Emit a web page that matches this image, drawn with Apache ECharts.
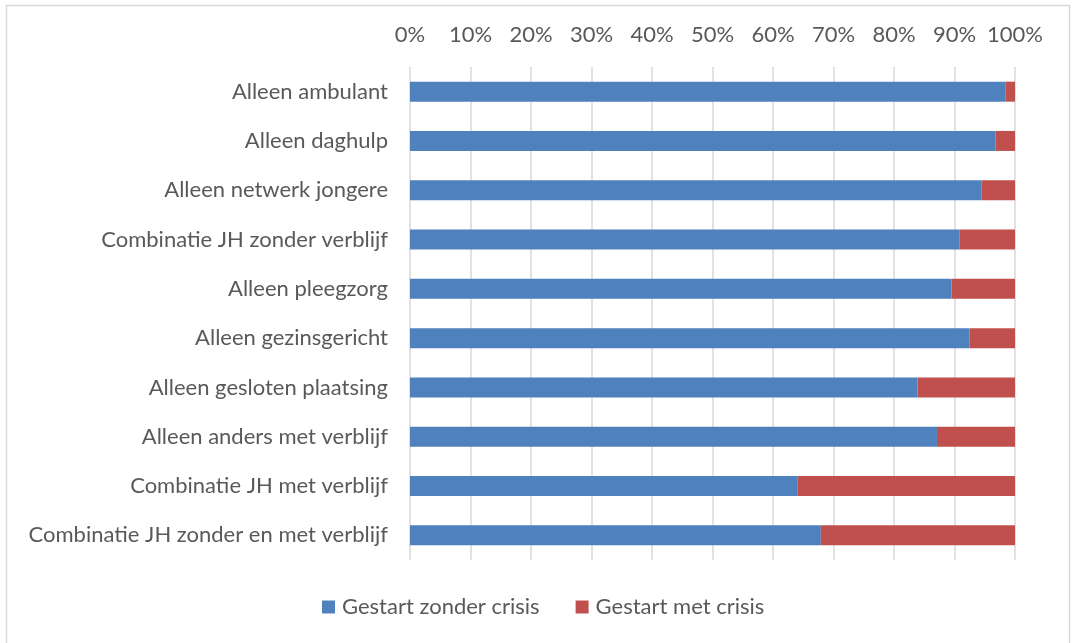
<!DOCTYPE html>
<html><head><meta charset="utf-8">
<script src="https://cdn.jsdelivr.net/npm/echarts@6/dist/echarts.min.js"></script>
<style>html,body{margin:0;padding:0;background:#fff}#c{width:1074px;height:643px}</style>
</head><body><div id="c"></div>
<script>
const categories = [
  "Alleen ambulant",
  "Alleen daghulp",
  "Alleen netwerk jongere",
  "Combinatie JH zonder verblijf",
  "Alleen pleegzorg",
  "Alleen gezinsgericht",
  "Alleen gesloten plaatsing",
  "Alleen anders met verblijf",
  "Combinatie JH met verblijf",
  "Combinatie JH zonder en met verblijf"
];
const zonderCrisis = [98.4, 96.8, 94.5, 90.8, 89.5, 92.5, 83.9, 87.1, 64.1, 67.9];
const metCrisis = [1.6, 3.2, 5.5, 9.2, 10.5, 7.5, 16.1, 12.9, 35.9, 32.1];
const seriesNames = ["Gestart zonder crisis", "Gestart met crisis"];

const FONT = "Lato";
const FS = 22;
const chart = echarts.init(document.getElementById('c'));
chart.setOption({
  animation: false,
  textStyle: { fontFamily: FONT },
  graphic: [{
    type: 'rect', shape: { x: 6.5, y: 5.5, width: 1063, height: 660 },
    style: { fill: 'none', stroke: '#d9d9d9', lineWidth: 1.5 }, silent: true
  }],
  grid: { left: 410, right: 59, top: 67, bottom: 83, containLabel: false },
  legend: {
    top: 596, left: 322, itemWidth: 13, itemHeight: 13, itemGap: 36,
    icon: 'rect', padding: 0,
    textStyle: { color: '#595959', fontSize: FS, fontFamily: FONT, padding: [0, 0, 0, 2] },
    data: seriesNames
  },
  xAxis: {
    type: 'value', position: 'top', min: 0, max: 100, interval: 10,
    axisLabel: { formatter: '{value}%', color: '#595959', fontSize: FS, margin: 21, fontFamily: FONT },
    axisLine: { show: false }, axisTick: { show: false },
    splitLine: { lineStyle: { color: '#d9d9d9', width: 1.5 } }
  },
  yAxis: {
    type: 'category', inverse: true, data: categories,
    axisLabel: { color: '#595959', fontSize: FS, margin: 22, fontFamily: FONT },
    axisLine: { show: false }, axisTick: { show: false }
  },
  series: [
    { name: seriesNames[0], type: 'bar', stack: 't', data: zonderCrisis, barWidth: 20,
      itemStyle: { color: '#4F81BD' } },
    { name: seriesNames[1], type: 'bar', stack: 't', data: metCrisis, barWidth: 20,
      itemStyle: { color: '#C0504D' } }
  ]
});
</script></body></html>
